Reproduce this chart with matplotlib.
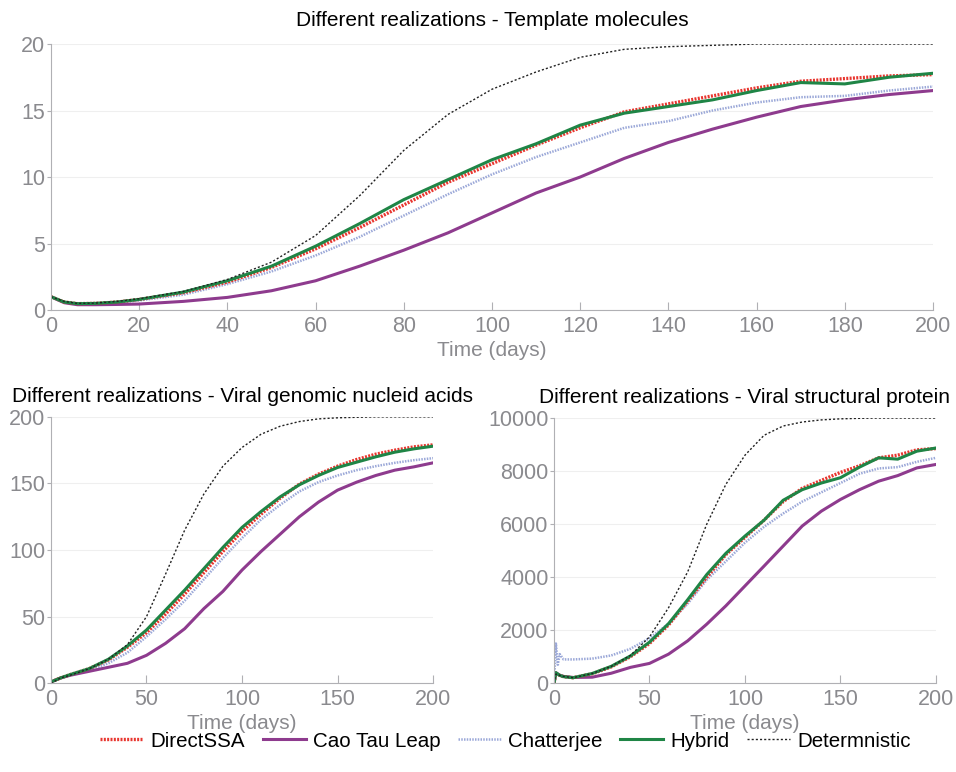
import matplotlib
matplotlib.use("Agg")
import matplotlib.pyplot as plt

plt.rcParams['font.family'] = ['Liberation Sans', 'DejaVu Sans']

# --- template molecules (top panel)
t_top = [0, 3, 6, 10, 15, 20, 30, 40, 50, 60, 70, 80, 90, 100,
         110, 120, 130, 140, 150, 160, 170, 180, 190, 200]
tm_ssa = [1.0, 0.6, 0.48, 0.5, 0.6, 0.8, 1.3, 2.1, 3.2, 4.6, 6.2, 7.9, 9.6, 11.0,
          12.4, 13.7, 14.9, 15.5, 16.1, 16.7, 17.2, 17.4, 17.6, 17.7]
tm_cao = [1.0, 0.55, 0.4, 0.4, 0.42, 0.45, 0.65, 0.95, 1.45, 2.2, 3.3, 4.5, 5.8, 7.3,
          8.8, 10.0, 11.4, 12.6, 13.6, 14.5, 15.3, 15.8, 16.2, 16.5]
tm_chat = [1.0, 0.6, 0.45, 0.47, 0.55, 0.72, 1.15, 1.95, 2.9, 4.1, 5.5, 7.1, 8.7, 10.2,
           11.5, 12.6, 13.7, 14.2, 15.0, 15.6, 16.0, 16.1, 16.5, 16.8]
tm_hyb = [1.0, 0.6, 0.48, 0.5, 0.6, 0.8, 1.35, 2.2, 3.3, 4.8, 6.5, 8.3, 9.8, 11.3,
          12.5, 13.9, 14.8, 15.3, 15.8, 16.5, 17.1, 17.0, 17.5, 17.8]
tm_det = [1.0, 0.65, 0.5, 0.52, 0.65, 0.85, 1.4, 2.3, 3.6, 5.6, 8.6, 12.0, 14.7, 16.6,
          17.9, 19.0, 19.6, 19.8, 19.9, 20, 20, 20, 20, 20]

# --- viral genomic nucleid acids (bottom left)
t_gen = [0, 5, 10, 20, 30, 40, 50, 60, 70, 80, 90, 100,
         110, 120, 130, 140, 150, 160, 170, 180, 190, 200]
gn_ssa = [1, 4, 6.5, 11, 17.5, 27, 38, 52, 67, 83, 99, 114,
          127, 139, 149.5, 157, 163, 168, 172, 175, 177.5, 179]
gn_cao = [1, 4, 6, 9, 12, 15, 21, 30, 41, 56, 69, 85,
          99, 112, 125, 136, 145, 151, 156, 160, 162.5, 165.5]
gn_chat = [1, 4, 6, 10, 15, 23, 35, 48, 62, 78, 94, 109,
           123, 134, 144, 151, 156, 160, 163, 165.5, 167.5, 169]
gn_hyb = [1, 4, 6.5, 11, 18, 28, 40, 55, 70, 86, 102, 117,
          129, 140, 149, 156, 162, 166, 170, 173.5, 176, 178]
gn_det = [0, 4, 6, 11, 18, 29, 50, 82, 115, 142, 163, 177,
          187, 193, 196.5, 198.5, 199.3, 199.7, 200, 200, 200, 200]

# --- viral structural protein (bottom right)
t_prot = [0, 1, 2, 3, 5, 10, 20, 30, 40, 50, 60, 70, 80, 90, 100,
          110, 120, 130, 140, 150, 160, 170, 180, 190, 200]
pr_ssa = [0, 380, 340, 300, 250, 210, 360, 620, 1000, 1500, 2200, 3100, 4000, 4850, 5500,
          6150, 6850, 7350, 7650, 7950, 8200, 8500, 8600, 8800, 8850]
pr_cao = [0, 400, 350, 300, 260, 220, 230, 380, 600, 750, 1100, 1600, 2230, 2920, 3670,
          4420, 5175, 5930, 6490, 6930, 7300, 7620, 7830, 8120, 8250]
pr_chat = [0, 1500, 700, 1100, 900, 900, 930, 1050, 1300, 1700, 2250, 3000, 3900, 4600, 5300,
           5900, 6400, 6850, 7200, 7550, 7900, 8100, 8150, 8350, 8500]
pr_hyb = [0, 400, 350, 300, 250, 210, 370, 640, 1030, 1550, 2250, 3150, 4100, 4900, 5550,
          6150, 6900, 7300, 7550, 7750, 8150, 8500, 8450, 8750, 8870]
pr_det = [0, 350, 330, 300, 260, 210, 370, 640, 1050, 1750, 2850, 4200, 6000, 7500, 8600,
          9350, 9700, 9850, 9930, 9970, 9990, 10000, 10000, 10000, 10000]

names = ['DirectSSA', 'Cao Tau Leap', 'Chatterjee', 'Hybrid', 'Determnistic']
styles = [
    dict(color='#e8352e', lw=2.4, ls=(0, (0.6, 0.4))),
    dict(color='#8e3b8e', lw=2.2, ls='-'),
    dict(color='#9ba8d8', lw=1.8, ls=(0, (0.6, 0.5))),
    dict(color='#1f8546', lw=2.2, ls='-'),
    dict(color='#222222', lw=1.0, ls=(0, (1.5, 1.5))),
]
GREY = '#8a8a8e'

fig = plt.figure(figsize=(9.56, 7.72), dpi=100)
ax_top = fig.add_axes([0.0533, 0.5984, 0.9227, 0.3446])
ax_bl = fig.add_axes([0.0533, 0.1149, 0.3997, 0.3451])
ax_br = fig.add_axes([0.5795, 0.1149, 0.3995, 0.3436])

panels = [
    (ax_top, t_top, [tm_ssa, tm_cao, tm_chat, tm_hyb, tm_det],
     'Different realizations - Template molecules', 20, range(0, 201, 20), [0, 5, 10, 15, 20], 13),
    (ax_bl, t_gen, [gn_ssa, gn_cao, gn_chat, gn_hyb, gn_det],
     'Different realizations - Viral genomic nucleid acids', 200, range(0, 201, 50), [0, 50, 100, 150, 200], 11),
    (ax_br, t_prot, [pr_ssa, pr_cao, pr_chat, pr_hyb, pr_det],
     'Different realizations - Viral structural protein', 10000, range(0, 201, 50), [0, 2000, 4000, 6000, 8000, 10000], 11),
]

for ax, t, series, title, ymax, xt, yt, tpad in panels:
    # draw order: chatterjee and cao underneath, deterministic on top
    for i in [2, 1, 0, 3, 4]:
        ax.plot(t, series[i], label=names[i], **styles[i])
    ax.set_xlim(0, 200)
    ax.set_ylim(0, ymax)
    ax.set_xticks(list(xt))
    ax.set_yticks(yt)
    ax.set_title(title, fontsize=15, pad=tpad)
    ax.set_xlabel('Time (days)', fontsize=15, color=GREY, labelpad=3)
    ax.grid(axis='y', color='#efefef', lw=0.8)
    ax.set_axisbelow(True)
    for s in ['top', 'right']:
        ax.spines[s].set_visible(False)
    for s in ['left', 'bottom']:
        ax.spines[s].set_color('#b0b0b4')
    ax.tick_params(axis='x', direction='in', length=6, color='#b0b0b4',
                   labelsize=15.5, labelcolor=GREY, pad=4)
    ax.tick_params(axis='y', direction='out', length=3, color='#b0b0b4',
                   labelsize=15.5, labelcolor=GREY, pad=1)

handles, labels = ax_top.get_legend_handles_labels()
order = [labels.index(n) for n in names]
fig.legend([handles[i] for i in order], names, loc='center', bbox_to_anchor=(0.529, 0.04),
           ncol=5, frameon=False, fontsize=14.8, handlelength=2.1, handletextpad=0.35,
           columnspacing=0.85)

fig.savefig('out.png', dpi=100)
